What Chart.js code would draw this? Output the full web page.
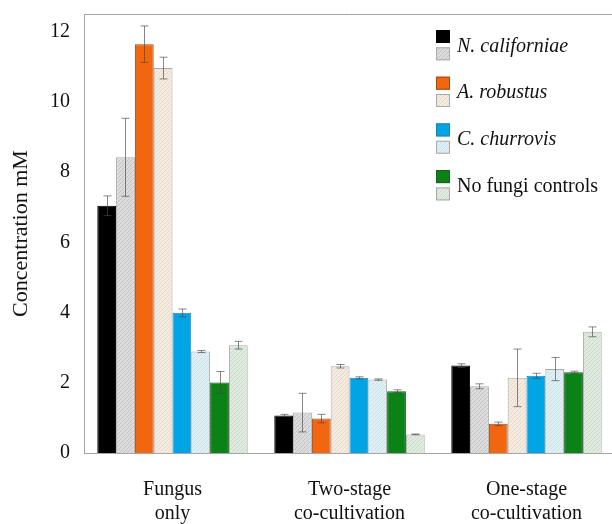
<!DOCTYPE html>
<html>
<head>
<meta charset="utf-8">
<script src="https://cdn.jsdelivr.net/npm/chart.js@4/dist/chart.umd.min.js"></script>
<style>
  html, body { margin: 0; padding: 0; background: #fff; overflow: hidden; }
  #wrap { width: 615px; height: 524px; position: relative; }
</style>
</head>
<body>
<div id="wrap"><canvas id="chart"></canvas></div>
<script>
// categories
const categories = [["Fungus", "only"], ["Two-stage", "co-cultivation"], ["One-stage", "co-cultivation"]];
const yTicks = [0, 2, 4, 6, 8, 10, 12];

// series values (mM) and error bars
const ncalSolid   = [7.04, 1.07, 2.49];
const ncalHatch   = [8.42, 1.15, 1.90];
const arobSolid   = [11.64, 0.98, 0.83];
const arobHatch   = [10.96, 2.47, 2.14];
const cchuSolid   = [3.99, 2.14, 2.20];
const cchuHatch   = [2.89, 2.09, 2.39];
const ctrlSolid   = [2.01, 1.76, 2.30];
const ctrlHatch   = [3.07, 0.53, 3.45];

const ncalSolidErr = [0.28, 0.03, 0.05];
const ncalHatchErr = [1.11, 0.55, 0.07];
const arobSolidErr = [0.52, 0.12, 0.05];
const arobHatchErr = [0.31, 0.05, 0.82];
const cchuSolidErr = [0.11, 0.03, 0.07];
const cchuHatchErr = [0.03, 0.02, 0.33];
const ctrlSolidErr = [0.31, 0.04, 0.03];
const ctrlHatchErr = [0.11, 0.01, 0.14];

const legendLabels = ["N. californiae", "A. robustus", "C. churrovis", "No fungi controls"];

function hatch(base, line) {
  const c = document.createElement("canvas");
  c.width = 4; c.height = 4;
  const g = c.getContext("2d");
  g.fillStyle = base;
  g.fillRect(0, 0, 4, 4);
  g.strokeStyle = line;
  g.lineWidth = 0.8;
  g.beginPath();
  g.moveTo(0, 4); g.lineTo(4, 0);
  g.moveTo(-1, 1); g.lineTo(1, -1);
  g.moveTo(3, 5); g.lineTo(5, 3);
  g.stroke();
  return g.createPattern(c, "repeat");
}

const solidStyle = (color, border) => ({ backgroundColor: color, borderColor: border, borderWidth: 1 });
const hatchStyle = (base, line) => ({ backgroundColor: hatch(base, line), borderColor: "#a9a9a9", borderWidth: 1 });

const datasets = [
  { data: ncalSolid, err: ncalSolidErr, ...solidStyle("#000000", "#000000") },
  { data: ncalHatch, err: ncalHatchErr, ...hatchStyle("#dcdcdc", "#bdbdbd") },
  { data: arobSolid, err: arobSolidErr, ...solidStyle("#f2660f", "#9a4a1a") },
  { data: arobHatch, err: arobHatchErr, ...hatchStyle("#f5ece1", "#e2d3c0") },
  { data: cchuSolid, err: cchuSolidErr, ...solidStyle("#00a5e6", "#2a7fa6") },
  { data: cchuHatch, err: cchuHatchErr, ...hatchStyle("#dff0f5", "#c3dde6") },
  { data: ctrlSolid, err: ctrlSolidErr, ...solidStyle("#0a8216", "#1f5a22") },
  { data: ctrlHatch, err: ctrlHatchErr, ...hatchStyle("#e0ebe0", "#c4d6c4") },
];

const errorBars = {
  id: "errorBars",
  afterDatasetsDraw(chart) {
    const ctx = chart.ctx, y = chart.scales.y;
    ctx.save();
    ctx.strokeStyle = "rgba(70,70,70,0.65)";
    ctx.lineWidth = 1;
    chart.data.datasets.forEach((ds, i) => {
      chart.getDatasetMeta(i).data.forEach((bar, j) => {
        const v = ds.data[j], e = ds.err[j];
        const top = y.getPixelForValue(v + e), bot = y.getPixelForValue(v - e);
        const x = Math.round(bar.x) + 0.5;
        ctx.beginPath();
        ctx.moveTo(x, top); ctx.lineTo(x, bot);
        ctx.moveTo(x - 4, top); ctx.lineTo(x + 4, top);
        ctx.moveTo(x - 4, bot); ctx.lineTo(x + 4, bot);
        ctx.stroke();
      });
    });
    ctx.restore();
  }
};

const frame = {
  id: "frame",
  afterDraw(chart) {
    const { ctx, chartArea: a } = chart;
    ctx.save();
    ctx.strokeStyle = "#a6a6a6";
    ctx.lineWidth = 1;
    ctx.beginPath();
    ctx.moveTo(a.left, a.top + 0.5); ctx.lineTo(a.right, a.top + 0.5);
    ctx.stroke();
    ctx.restore();
  }
};

const pairLegend = {
  id: "pairLegend",
  afterDraw(chart) {
    const ctx = chart.ctx;
    const ds = chart.data.datasets;
    ctx.save();
    ctx.textBaseline = "middle";
    legendLabels.forEach((label, i) => {
      const top = 30 + i * 46.7;
      [ds[2 * i], ds[2 * i + 1]].forEach((d, k) => {
        const yy = top + k * 17.3;
        ctx.fillStyle = d.backgroundColor;
        ctx.fillRect(436, yy, 14, 13);
        ctx.strokeStyle = k ? "#a9a9a9" : d.borderColor;
        ctx.strokeRect(436.5, yy + 0.5, 13, 12);
      });
      ctx.fillStyle = "#111";
      ctx.font = (i < 3 ? "italic " : "") + "20px 'Liberation Serif', serif";
      ctx.fillText(label, 457, top + 16.5);
    });
    ctx.restore();
  }
};

new Chart(document.getElementById("chart"), {
  type: "bar",
  data: { labels: categories, datasets },
  plugins: [errorBars, frame, pairLegend],
  options: {
    responsive: true,
    maintainAspectRatio: false,
    animation: false,
    layout: { padding: { top: 14, left: 0, right: 0, bottom: 0 } },
    plugins: { legend: { display: false }, tooltip: { enabled: false } },
    datasets: { bar: { categoryPercentage: 0.85, barPercentage: 1.0 } },
    scales: {
      x: {
        grid: { display: false, drawTicks: false },
        border: { color: "#a6a6a6" },
        ticks: { color: "#111", padding: 25, font: { family: "'Liberation Serif', serif", size: 20 } },
        afterFit: s => { s.height = 71; s.paddingLeft = 0; s.paddingRight = 0; }
      },
      y: {
        min: 0,
        max: 12.5,
        grid: { display: false, drawTicks: false },
        border: { color: "#a6a6a6" },
        ticks: { stepSize: 2, color: "#111", padding: 14, font: { family: "'Liberation Serif', serif", size: 20 } },
        afterBuildTicks: s => { s.ticks = yTicks.map(v => ({ value: v })); },
        title: { display: true, text: "Concentration mM", color: "#111", padding: { top: 8, bottom: 0 }, font: { family: "'Liberation Serif', serif", size: 22 } },
        afterFit: s => { s.width = 84; s.paddingTop = 0; s.paddingBottom = 0; }
      }
    }
  }
});
</script>
</body>
</html>
